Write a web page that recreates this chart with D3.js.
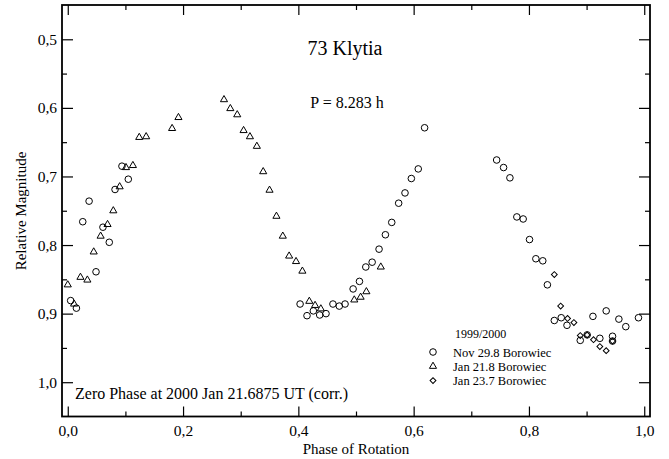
<!DOCTYPE html>
<html>
<head>
<meta charset="utf-8">
<script src="https://cdn.jsdelivr.net/npm/d3@7"></script>
<style>
  body { margin: 0; background: #fff; }
  svg { display: block; font-family: "Liberation Serif", "DejaVu Serif", serif; }
</style>
</head>
<body>
<div id="chart"></div>
<script>
// phase / relative magnitude
const novPhase = [0.005, 0.015, 0.026, 0.037, 0.049, 0.061, 0.072, 0.082, 0.094, 0.105,
  0.403, 0.415, 0.426, 0.437, 0.448, 0.460, 0.471, 0.481, 0.495, 0.506, 0.517, 0.528, 0.540,
  0.551, 0.562, 0.574, 0.585, 0.596, 0.608, 0.619,
  0.744, 0.756, 0.767, 0.779, 0.790, 0.801, 0.812, 0.824, 0.832, 0.844, 0.856, 0.866,
  0.889, 0.901, 0.911, 0.923, 0.934, 0.945, 0.956, 0.968, 0.990, 0.945];
const novMag = [0.881, 0.892, 0.766, 0.736, 0.839, 0.774, 0.796, 0.719, 0.685, 0.704,
  0.886, 0.903, 0.896, 0.902, 0.900, 0.886, 0.889, 0.886, 0.864, 0.853, 0.832, 0.825, 0.806,
  0.785, 0.767, 0.739, 0.724, 0.703, 0.689, 0.629,
  0.676, 0.687, 0.702, 0.759, 0.762, 0.792, 0.820, 0.823, 0.858, 0.910, 0.906, 0.917,
  0.939, 0.931, 0.904, 0.936, 0.896, 0.933, 0.908, 0.919, 0.906, 0.940];

const jan21Phase = [0.000, 0.011, 0.022, 0.034, 0.045, 0.057, 0.069, 0.079, 0.090, 0.101,
  0.113, 0.124, 0.136, 0.181, 0.192, 0.271, 0.282, 0.294, 0.305, 0.316, 0.328, 0.339, 0.350,
  0.362, 0.373, 0.384, 0.396, 0.407, 0.419, 0.429, 0.439, 0.497, 0.508, 0.518, 0.543];
const jan21Mag = [0.858, 0.886, 0.847, 0.851, 0.810, 0.787, 0.770, 0.750, 0.715, 0.687,
  0.684, 0.643, 0.642, 0.630, 0.614, 0.588, 0.601, 0.610, 0.633, 0.642, 0.656, 0.693, 0.720,
  0.758, 0.787, 0.816, 0.824, 0.838, 0.882, 0.888, 0.893, 0.880, 0.876, 0.868, 0.832];

const jan23Phase = [0.844, 0.855, 0.867, 0.878, 0.889, 0.901, 0.912, 0.923, 0.934, 0.945];
const jan23Mag = [0.843, 0.889, 0.907, 0.913, 0.932, 0.931, 0.938, 0.948, 0.954, 0.940];

const xTicks = [0, 0.2, 0.4, 0.6, 0.8, 1.0];
const xMinor = [0.1, 0.3, 0.5, 0.7, 0.9];
const yTicks = [0.5, 0.6, 0.7, 0.8, 0.9, 1.0];
const yMinor = [0.55, 0.65, 0.75, 0.85, 0.95];

const legendNames = ["Nov 29.8 Borowiec", "Jan 21.8 Borowiec", "Jan 23.7 Borowiec"];

const W = 669, H = 459;
const plotL = 62, plotR = 650, plotT = 5, plotB = 416.5;

const svg = d3.select("#chart").append("svg")
  .attr("width", W).attr("height", H);

const x = d3.scaleLinear().domain([-0.01, 1.01]).range([plotL, plotR]);
const y = d3.scaleLinear().domain([0.45, 1.05]).range([plotT, plotB]);

const comma = d => d3.format(".1f")(d).replace(".", ",");

// bottom axis with inward ticks
svg.append("g")
  .attr("transform", `translate(0,${plotB})`)
  .call(d3.axisBottom(x).tickValues(xTicks).tickSize(-10).tickPadding(8).tickFormat(comma))
  .call(g => g.select(".domain").remove())
  .call(g => g.selectAll("text").attr("font-size", 15.5).attr("font-family", "Liberation Serif").attr("fill", "#000"));
svg.append("g")
  .attr("transform", `translate(0,${plotB})`)
  .call(d3.axisBottom(x).tickValues(xMinor).tickSize(-5).tickFormat(""))
  .call(g => g.select(".domain").remove());
// top ticks
svg.append("g")
  .attr("transform", `translate(0,${plotT})`)
  .call(d3.axisTop(x).tickValues(xTicks).tickSize(-10).tickFormat(""))
  .call(g => g.select(".domain").remove());
svg.append("g")
  .attr("transform", `translate(0,${plotT})`)
  .call(d3.axisTop(x).tickValues(xMinor).tickSize(-5).tickFormat(""))
  .call(g => g.select(".domain").remove());

// left axis
svg.append("g")
  .attr("transform", `translate(${plotL},0)`)
  .call(d3.axisLeft(y).tickValues(yTicks).tickSize(-11).tickPadding(5).tickFormat(comma))
  .call(g => g.select(".domain").remove())
  .call(g => g.selectAll("text").attr("font-size", 15.5).attr("font-family", "Liberation Serif").attr("fill", "#000"));
svg.append("g")
  .attr("transform", `translate(${plotL},0)`)
  .call(d3.axisLeft(y).tickValues(yMinor).tickSize(-5).tickFormat(""))
  .call(g => g.select(".domain").remove());
// right ticks
svg.append("g")
  .attr("transform", `translate(${plotR},0)`)
  .call(d3.axisRight(y).tickValues(yTicks).tickSize(-11).tickFormat(""))
  .call(g => g.select(".domain").remove());
svg.append("g")
  .attr("transform", `translate(${plotR},0)`)
  .call(d3.axisRight(y).tickValues(yMinor).tickSize(-5).tickFormat(""))
  .call(g => g.select(".domain").remove());

svg.selectAll(".tick line").attr("stroke", "#000").attr("stroke-width", 1.2);

// frame
svg.append("rect")
  .attr("x", plotL).attr("y", plotT)
  .attr("width", plotR - plotL).attr("height", plotB - plotT)
  .attr("fill", "none").attr("stroke", "#000").attr("stroke-width", 1.8);

// markers
const circleSym = d3.symbol().type(d3.symbolCircle).size(Math.PI * 3.3 * 3.3);
const triSym = d3.symbol().type(d3.symbolTriangle).size(22);
const diaSym = d3.symbol().type(d3.symbolSquare).size(17);

function drawSeries(xs, ys, sym, rot) {
  svg.append("g")
    .selectAll("path")
    .data(xs.map((v, i) => [v, ys[i]]))
    .join("path")
    .attr("d", sym)
    .attr("transform", d => `translate(${x(d[0])},${y(d[1])}) rotate(${rot})`)
    .attr("fill", "none")
    .attr("stroke", "#000")
    .attr("stroke-width", 1);
}
drawSeries(novPhase, novMag, circleSym, 0);
drawSeries(jan21Phase, jan21Mag, triSym, 0);
drawSeries(jan23Phase, jan23Mag, diaSym, 45);

// texts
svg.append("text").attr("x", 345).attr("y", 55).attr("text-anchor", "middle")
  .attr("font-size", 20).text("73 Klytia");
svg.append("text").attr("x", 347).attr("y", 108).attr("text-anchor", "middle")
  .attr("font-size", 16).text("P = 8.283 h");
svg.append("text").attr("x", 75).attr("y", 399)
  .attr("font-size", 16).text("Zero Phase at 2000 Jan 21.6875 UT (corr.)");

svg.append("text").attr("x", 356).attr("y", 454).attr("text-anchor", "middle")
  .attr("font-size", 15).text("Phase of Rotation");
svg.append("text").attr("transform", "translate(26,211) rotate(-90)").attr("text-anchor", "middle")
  .attr("font-size", 15).text("Relative Magnitude");

// legend
svg.append("text").attr("x", 455).attr("y", 338).attr("font-size", 12).text("1999/2000");
const legSyms = [[circleSym, 0], [triSym, 0], [diaSym, 45]];
legendNames.forEach((name, i) => {
  const ly = 352 + i * 14.3;
  svg.append("path").attr("d", legSyms[i][0])
    .attr("transform", `translate(433,${ly}) rotate(${legSyms[i][1]})`)
    .attr("fill", "none").attr("stroke", "#000").attr("stroke-width", 1);
  svg.append("text").attr("x", 453).attr("y", ly + 4.5).attr("font-size", 12.5).text(name);
});
</script>
</body>
</html>
